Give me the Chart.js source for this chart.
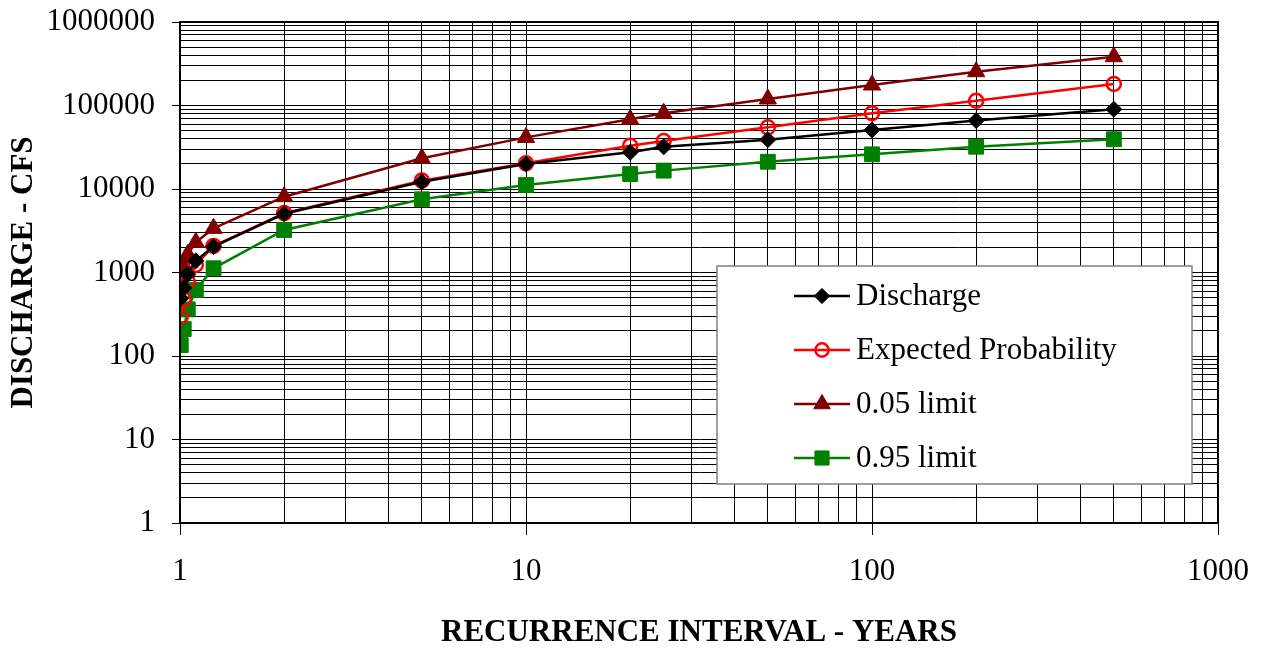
<!DOCTYPE html>
<html>
<head>
<meta charset="utf-8">
<script src="https://cdn.jsdelivr.net/npm/chart.js@4"></script>
<style>
  html, body { margin: 0; padding: 0; background: #fff; }
  #wrap { width: 1267px; height: 648px; }
</style>
</head>
<body>
<div id="wrap"><canvas id="c" width="1267" height="648"></canvas></div>
<script>
// ---- data ----
const recurrence   = [1.005, 1.025, 1.053, 1.111, 1.25, 2, 5, 10, 20, 25, 50, 100, 200, 500];
const discharge    = [490, 650, 950, 1380, 2040, 5050, 12200, 19900, 27500, 32000, 39000, 51000, 66000, 90000];
const expectedProb = [296, 477, 776, 1230, 2080, 5150, 12600, 20300, 33000, 37600, 54800, 80700, 114000, 181000];
const limit05      = [930, 1250, 1650, 2300, 3380, 8090, 23300, 41500, 68400, 80700, 119700, 176000, 254000, 384000];
const limit95      = [135, 210, 362, 617, 1123, 3230, 7530, 11170, 15100, 16600, 21200, 26000, 32100, 39400];
const seriesNames  = ['Discharge', 'Expected Probability', '0.05 limit', '0.95 limit'];
const xMajorTicks  = [1, 10, 100, 1000];
const yMajorTicks  = [1, 10, 100, 1000, 10000, 100000, 1000000];

const SERIF = "'Liberation Serif', 'Times New Roman', serif";
const isPow10 = v => Math.abs(Math.log10(v) - Math.round(Math.log10(v))) < 1e-9;

function logTicks(majors) {
  const out = [];
  for (let i = 0; i < majors.length - 1; i++) {
    for (let m = 1; m <= 9; m++) out.push(m * majors[i]);
  }
  out.push(majors[majors.length - 1]);
  return out.map(v => ({ value: v, major: isPow10(v) }));
}

const pts = arr => recurrence.map((x, i) => ({ x: x, y: arr[i] }));

const styles = [
  { color: '#000000', pointStyle: 'rectRot', radius: 8, fill: '#000000', bw: 1 },
  { color: '#FF0000', pointStyle: 'circle', radius: 7, fill: 'rgba(0,0,0,0)', bw: 2.5 },
  { color: '#800000', pointStyle: 'triangle', radius: 10, fill: '#800000', bw: 1 },
  { color: '#008000', pointStyle: 'rect', radius: 10.5, fill: '#008000', bw: 1 }
];
const seriesData = [discharge, expectedProb, limit05, limit95];

const datasets = seriesData.map((arr, i) => ({
  label: seriesNames[i],
  data: pts(arr),
  borderColor: styles[i].color,
  borderWidth: 2.5,
  pointStyle: styles[i].pointStyle,
  pointRadius: styles[i].radius,
  pointBackgroundColor: styles[i].fill,
  pointBorderColor: styles[i].color,
  pointBorderWidth: styles[i].bw,
  tension: 0,
  fill: false
}));

const frame = {
  id: 'frame',
  afterDraw(chart) {
    const { ctx, chartArea: a } = chart;
    ctx.save();
    ctx.strokeStyle = '#000';
    ctx.lineWidth = 2;
    ctx.strokeRect(a.left, a.top, a.right - a.left, a.bottom - a.top);
    ctx.restore();
  }
};

const boxLegend = {
  id: 'boxLegend',
  afterDraw(chart) {
    const ctx = chart.ctx;
    const L = 717, T = 266, R = 1192, B = 484;
    ctx.save();
    ctx.fillStyle = '#fff';
    ctx.fillRect(L, T, R - L, B - T);
    ctx.strokeStyle = '#808080';
    ctx.lineWidth = 1.5;
    ctx.strokeRect(L, T, R - L, B - T);
    const rows = [296, 350, 404, 458];
    ctx.font = '31px ' + SERIF;
    ctx.textBaseline = 'middle';
    ctx.textAlign = 'left';
    chart.data.datasets.forEach((ds, i) => {
      const y = rows[i];
      ctx.strokeStyle = ds.borderColor;
      ctx.lineWidth = 2.5;
      ctx.beginPath();
      ctx.moveTo(794, y);
      ctx.lineTo(850, y);
      ctx.stroke();
      ctx.fillStyle = ds.pointBackgroundColor;
      ctx.strokeStyle = ds.pointBorderColor;
      ctx.lineWidth = ds.pointBorderWidth;
      Chart.helpers.drawPoint(ctx, {
        pointStyle: ds.pointStyle,
        radius: ds.pointRadius * 0.95,
        rotation: 0,
        borderWidth: ds.pointBorderWidth
      }, 822, y);
      ctx.fillStyle = '#000';
      ctx.fillText(ds.label, 856, y + 1);
    });
    ctx.restore();
  }
};

new Chart(document.getElementById('c'), {
  type: 'line',
  data: { datasets: datasets },
  plugins: [frame, boxLegend],
  options: {
    responsive: false,
    animation: false,
    devicePixelRatio: 1,
    layout: { padding: { left: 0, right: 45, top: 22, bottom: 0 } },
    plugins: { legend: { display: false }, tooltip: { enabled: false } },
    scales: {
      x: {
        type: 'logarithmic',
        position: 'bottom',
        min: xMajorTicks[0],
        max: xMajorTicks[xMajorTicks.length - 1],
        afterBuildTicks: s => { s.ticks = logTicks(xMajorTicks); },
        afterFit: s => { s.height = 125; },
        ticks: {
          autoSkip: false, maxRotation: 0, color: '#000', padding: 18,
          font: { family: SERIF, size: 31 },
          callback: v => isPow10(v) ? String(v) : ''
        },
        grid: {
          color: '#000', lineWidth: 1, tickLength: 12, drawTicks: true,
          tickColor: c => (c.tick && isPow10(c.tick.value)) ? '#000' : 'rgba(0,0,0,0)'
        },
        border: { display: true, color: '#000', width: 2 },
        title: {
          display: true, text: 'RECURRENCE INTERVAL - YEARS', color: '#000',
          font: { family: SERIF, size: 31, weight: 'bold', lineHeight: 1.0 },
          padding: { top: 0, bottom: 0 }
        }
      },
      y: {
        type: 'logarithmic',
        position: 'left',
        min: yMajorTicks[0],
        max: yMajorTicks[yMajorTicks.length - 1],
        afterBuildTicks: s => { s.ticks = logTicks(yMajorTicks); },
        afterFit: s => { s.width = 180; },
        ticks: {
          autoSkip: false, color: '#000', padding: 17,
          font: { family: SERIF, size: 31, lineHeight: 0.3 },
          callback: v => isPow10(v) ? String(v) : ''
        },
        grid: {
          color: '#000', lineWidth: 1, tickLength: 8, drawTicks: true,
          tickColor: c => (c.tick && isPow10(c.tick.value)) ? '#000' : 'rgba(0,0,0,0)'
        },
        border: { display: true, color: '#000', width: 2 },
        title: {
          display: true, text: 'DISCHARGE - CFS', color: '#000',
          font: { family: SERIF, size: 31, weight: 'bold', lineHeight: 1.0 },
          padding: { top: 8, bottom: 0 }
        }
      }
    }
  }
});
</script>
</body>
</html>
